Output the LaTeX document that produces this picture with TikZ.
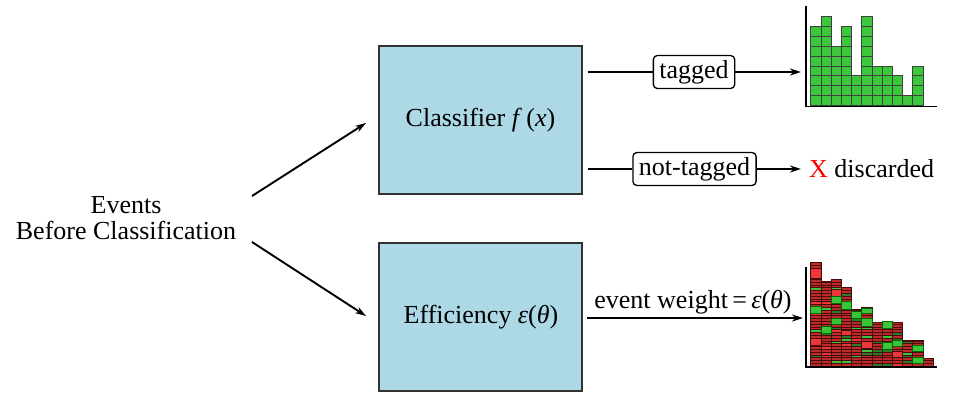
\documentclass[tikz,border=0pt]{standalone}
\usepackage{fontspec}
\setmainfont{Liberation Serif}
\usetikzlibrary{arrows.meta}
\definecolor{boxblue}{RGB}{173,216,230}
\definecolor{gfill}{RGB}{58,200,58}
\definecolor{cA}{RGB}{190,42,42}
\definecolor{cB}{RGB}{235,55,55}
\definecolor{cC}{RGB}{60,195,60}
\definecolor{cD}{RGB}{40,125,40}
\definecolor{sline}{RGB}{70,12,12}
\tikzset{
  procbox/.style={draw=black!80, line width=1.3pt, fill=boxblue, minimum width=203pt, minimum height=148pt, inner sep=0pt},
  txt/.style={font=\fontsize{26}{27}\selectfont, inner sep=0pt},
  tagbox/.style={txt, draw=black, line width=1.3pt, rounded corners=4pt, fill=white, inner xsep=6pt, inner ysep=0pt, minimum height=33pt},
  conn/.style={line width=1.9pt, -{Stealth[length=11pt,width=7pt]}},
  plainline/.style={line width=1.9pt},
  axisline/.style={line width=1.9pt},
  cell/.style={fill=gfill, draw=black!75, line width=0.8pt},
  bigred/.style={fill=cB, draw=sline, line width=0.5pt},
  biggreen/.style={fill=cC, draw=black!60!green, line width=0.5pt}
}
\begin{document}
\begin{tikzpicture}[x=1pt,y=-1pt]
\useasboundingbox (0,0) rectangle (953,392);
% main nodes
\node[txt, align=center] (ev) at (126,218) {Events\\[-1pt]Before Classification};
\node[procbox] (cls) at (480.5,120) {};
\node[txt] at (480.5,120) {Classifier \textit{f}\,(\textit{x})};
\node[procbox] (eff) at (480.5,317) {};
\node[txt] at (481,317) {Efficiency \textit{ε}(\textit{θ})};
% arrows from events
\coordinate (s1) at (252,196);
\coordinate (t1) at (366,123);
\coordinate (s2) at (252,242);
\coordinate (t2) at (366,316);
\draw[conn] (s1) -- (t1);
\draw[conn] (s2) -- (t2);
% tagged
\node[tagbox] (tg) at (694,72) {tagged};
\coordinate (h1in) at (801,72);
\draw[plainline, shorten <=5pt] (cls.east |- tg.west) -- (tg.west);
\draw[conn] (tg.east) -- (h1in);
% not tagged
\node[tagbox] (nt) at (694.5,169) {not-tagged};
\node[txt, anchor=west] (disc) at (809,169) {\textcolor{red}{X} discarded};
\draw[plainline, shorten <=5pt] (cls.east |- nt.west) -- (nt.west);
\draw[conn, shorten >=8pt] (nt.east) -- (disc.west);
% event weight
\coordinate (ewl) at (582,318);
\coordinate (h2in) at (803,318);
\draw[conn, shorten <=5pt] (ewl) -- (h2in);
\node[txt, anchor=base] (ew) at (693,308) {event weight\,=\,\textit{ε}(\textit{θ})};
% histogram 1
\foreach \n [count=\i from 0] in {8,9,6,8,3,9,4,4,3,1,4} {
  \pgfmathsetmacro{\xa}{810.7+10.2*\i}
  \foreach \k in {1,...,\n} {
    \draw[cell] (\xa,105.5-9.9*\k+9.9) rectangle (\xa+10.2,105.5-9.9*\k);
  }
}
\coordinate (h1o) at (805.7,106.5);
\draw[axisline] (805.7,6) -- (h1o) -- (937,106.5);
% histogram 2
\pgfmathsetseed{4242}
\foreach \h [count=\i from 0] in {104,85,87,79,57,59,44,45,44,26,26,8} {
  \pgfmathsetmacro{\xa}{810.7+10.2*\i}
  \pgfmathsetmacro{\xb}{\xa+10.2}
  \fill[cA] (\xa,366) rectangle (\xb,366-\h);
  \pgfmathtruncatemacro{\nn}{floor(\h/2.8)}
  \foreach \k in {1,...,\nn} {
    \pgfmathrandominteger{\r}{0}{13}
    \ifcase\r \def\col{cA}\or \def\col{cA}\or \def\col{cA}\or \def\col{cA}\or \def\col{cA}\or \def\col{cA}\or \def\col{cA}\or \def\col{cA}\or \def\col{cB}\or \def\col{cD}\or \def\col{cA}\or \def\col{cC}\or \def\col{cA}\else \def\col{cD}\fi
    \pgfmathsetmacro{\ya}{366-2.8*(\k-1)}
    \pgfmathsetmacro{\yb}{max(366-2.8*\k,366-\h)}
    \filldraw[fill=\col, draw=sline, line width=0.5pt] (\xa,\ya) rectangle (\xb,\yb);
  }
  \draw[sline, line width=0.6pt] (\xa,366) rectangle (\xb,366-\h);
}
\foreach \c/\ya/\yb/\s in {0/268.3/278.3/bigred, 0/306.7/313.3/biggreen, 0/338.3/345/bigred,
  1/326.7/333.3/biggreen, 2/289.3/296/bigred, 2/296.7/303.3/biggreen, 2/318.3/324/biggreen,
  3/301.7/309.3/biggreen, 3/330/335/bigred, 4/311.7/318.3/biggreen,
  5/308/313/biggreen, 5/318.3/326/biggreen, 5/341.7/348/bigred,
  7/321.7/328.3/biggreen, 7/342.3/349/biggreen, 8/340/346.7/biggreen, 8/351.7/357.3/bigred,
  10/345.7/351/biggreen, 10/357.3/363.3/biggreen} {
  \pgfmathsetmacro{\xa}{810.7+10.2*\c}
  \draw[\s] (\xa,\ya) rectangle (\xa+10.2,\yb);
}
\coordinate (h2o) at (805.7,367);
\draw[axisline] (805.7,267) -- (h2o) -- (937,367);
\end{tikzpicture}
\end{document}
